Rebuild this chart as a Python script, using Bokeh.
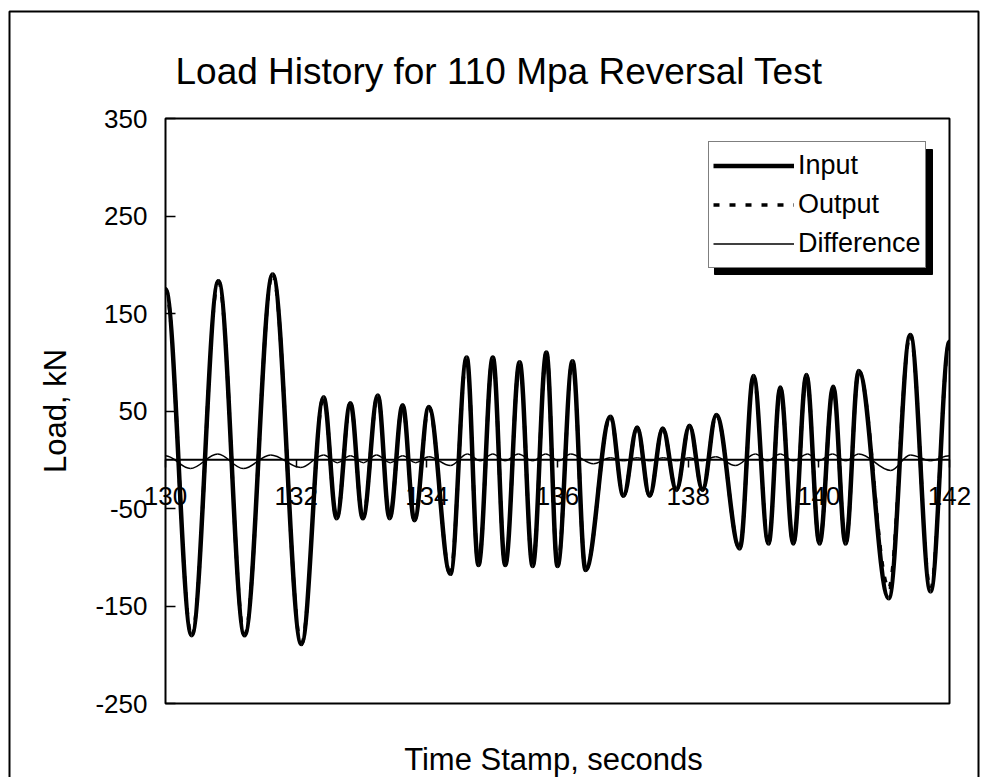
from math import pi
from bokeh.plotting import figure
from bokeh.models import (Range1d, FixedTicker, Legend, LegendItem, Label,
                          BoxAnnotation, ColumnDataSource)
from bokeh.embed import file_html
from bokeh.resources import INLINE

# Turning points of each trace: time stamp (s) and load (kN)
input_t = [130.00, 130.40, 130.81, 131.21, 131.64, 132.08, 132.42, 132.62, 132.83,
           133.02, 133.25, 133.43, 133.63, 133.81, 134.03, 134.36, 134.61, 134.79,
           135.01, 135.20, 135.42, 135.62, 135.83, 136.00, 136.23, 136.43, 136.81,
           137.01, 137.22, 137.41, 137.61, 137.82, 138.02, 138.22, 138.43, 138.79,
           139.00, 139.23, 139.41, 139.61, 139.81, 140.01, 140.22, 140.41, 140.61,
           141.07, 141.40, 141.71, 142.00]
input_kn = [175, -180, 183, -180, 190, -189, 64, -60, 58,
            -60, 66, -60, 56, -62, 54, -117, 105, -108,
            105, -108, 100, -109, 110, -109, 101, -113, 44,
            -37, 33, -37, 32, -31, 35, -31, 46, -91,
            86, -86, 74, -86, 87, -86, 75, -86, 91,
            -142, 128, -135, 121]

output_t = list(input_t)
output_kn = [175, -180, 183, -180, 190, -189, 64, -60, 58,
             -60, 66, -60, 56, -62, 54, -117, 105, -108,
             105, -108, 100, -109, 110, -109, 101, -113, 44,
             -37, 33, -37, 32, -31, 35, -31, 46, -91,
             86, -86, 74, -86, 87, -86, 75, -86, 91,
             -131, 128, -133, 121]

diff_t = [130.00, 130.38, 130.80, 131.19, 131.61, 132.07, 132.42, 132.63, 132.83,
          133.03, 133.23, 133.44, 133.63, 133.83, 134.03, 134.36, 134.62, 134.82,
          135.01, 135.20, 135.40, 135.62, 135.82, 136.02, 136.20, 136.55, 136.81,
          137.01, 137.22, 137.41, 137.62, 137.82, 138.01, 138.22, 138.42, 138.72,
          139.03, 139.21, 139.41, 139.61, 139.83, 139.99, 140.21, 140.41, 140.61,
          141.10, 141.40, 141.71, 142.00]
diff_kn = [4, -9, 6, -9, 5, -8, 5, -3, 4,
           -3, 5, -3, 4, -3, 3, -6, 6, -1,
           6, -1, 6, -1, 6, -1, 6, -4, 2,
           -1, 2, -1, 2, -1, 2, -1, 3, -6,
           6, -1, 6, -1, 6, -1, 6, -1, 6,
           -11, 5, -1, 4]

x_ticks = [130, 132, 134, 136, 138, 140, 142]
y_ticks = [-250, -150, -50, 50, 150, 250, 350]

FONT = "Liberation Sans"
K = 1 - 2 / pi  # cubic handle length for a sine-like swing

# page layout (pixels): the canvas is one big frame, the plot box sits inside it
W, H = 986, 777
BOX_L, BOX_R, BOX_T, BOX_B = 165, 949, 118, 703
X0, X1 = x_ticks[0], x_ticks[-1]
Y0, Y1 = y_ticks[0], y_ticks[-1]
SX = (BOX_R - BOX_L) / (X1 - X0)
SY = (BOX_B - BOX_T) / (Y1 - Y0)


def smooth_source(ts, vs):
    """Cubic segments between successive turning points with flat tangents."""
    d = dict(x0=[], y0=[], x1=[], y1=[], cx0=[], cy0=[], cx1=[], cy1=[])
    for i in range(len(ts) - 1):
        t0, t1, v0, v1 = ts[i], ts[i + 1], vs[i], vs[i + 1]
        dt = t1 - t0
        d["x0"].append(t0); d["y0"].append(v0)
        d["x1"].append(t1); d["y1"].append(v1)
        d["cx0"].append(t0 + K * dt); d["cy0"].append(v0)
        d["cx1"].append(t1 - K * dt); d["cy1"].append(v1)
    return ColumnDataSource(d)


p = figure(width=W, height=H, title=None,
           x_range=Range1d(X0 - BOX_L / SX, X1 + (W - BOX_R) / SX),
           y_range=Range1d(Y0 - (H - BOX_B) / SY, Y1 + BOX_T / SY),
           output_backend="svg", toolbar_location=None, min_border=0,
           background_fill_color="white", border_fill_color="white")
p.grid.visible = False
p.outline_line_color = None

# outer chart-area border
p.add_layout(BoxAnnotation(left=9, right=978, top=H - 11, bottom=-20,
                           left_units="screen", right_units="screen",
                           top_units="screen", bottom_units="screen",
                           fill_alpha=0, line_color="black", line_alpha=1, line_width=2))

# plot box and the zero line
p.quad(left=[X0], right=[X1], bottom=[Y0], top=[Y1], fill_alpha=0,
       line_color="black", line_width=2)
p.segment(x0=[X0], x1=[X1], y0=[0], y1=[0], line_color="black", line_width=2)

bez = dict(x0="x0", y0="y0", x1="x1", y1="y1", cx0="cx0", cy0="cy0", cx1="cx1", cy1="cy1")
r_in = p.bezier(**bez, source=smooth_source(input_t, input_kn), line_color="black", line_width=4.5)
r_out = p.bezier(**bez, source=smooth_source(output_t, output_kn), line_color="black",
                 line_width=3.5, line_dash="6 10")
r_diff = p.bezier(**bez, source=smooth_source(diff_t, diff_kn), line_color="black", line_width=1.5)

# x axis crosses at zero load
xa = p.xaxis[0]
xa.fixed_location = 0
xa.ticker = FixedTicker(ticks=x_ticks)
xa.axis_line_color = None
xa.major_tick_in = 0
xa.major_tick_out = 8
xa.major_tick_line_width = 1.5
xa.minor_tick_line_color = None
xa.major_label_standoff = 19
xa.major_label_text_font = FONT
xa.major_label_text_font_size = "26px"
xa.major_label_text_color = "black"

# y axis along the left side of the plot box
ya = p.yaxis[0]
ya.fixed_location = X0
ya.ticker = FixedTicker(ticks=y_ticks)
ya.major_label_overrides = {t: str(t) for t in y_ticks}
ya.axis_line_color = None
ya.major_tick_in = 10
ya.major_tick_out = 0
ya.major_tick_line_width = 1.5
ya.minor_tick_line_color = None
ya.major_label_standoff = 18
ya.major_label_text_font = FONT
ya.major_label_text_font_size = "26px"
ya.major_label_text_color = "black"

text_style = dict(x_units="screen", y_units="screen", text_font=FONT, text_color="black")
p.add_layout(Label(x=175, y=H - 71, text="Load History for 110 Mpa Reversal Test",
                   text_align="left", text_baseline="alphabetic", text_font_size="37px",
                   **text_style))
p.add_layout(Label(x=553, y=H - 759, text="Time Stamp, seconds", text_align="center",
                   text_baseline="middle", text_font_size="31px", **text_style))
p.add_layout(Label(x=55, y=H - (BOX_T + BOX_B) / 2, text="Load, kN", angle=pi / 2,
                   text_align="center", text_baseline="middle", text_font_size="31px",
                   **text_style))

# legend with a drop shadow
p.add_layout(BoxAnnotation(left=714, right=932, bottom=H - 274, top=H - 149,
                           left_units="screen", right_units="screen",
                           top_units="screen", bottom_units="screen",
                           fill_color="black", fill_alpha=1, line_color="black", line_alpha=1))
items = [LegendItem(label="Input", renderers=[r_in]),
         LegendItem(label="Output", renderers=[r_out]),
         LegendItem(label="Difference", renderers=[r_diff])]
legend = Legend(items=items, location=(708, H - 268), padding=4, spacing=0, glyph_width=81,
                glyph_height=39, label_height=39, label_standoff=4, label_text_font=FONT,
                label_text_font_size="27px", margin=0, border_line_width=1.5,
                background_fill_color="white", background_fill_alpha=1,
                border_line_color="black", label_text_color="black")
p.add_layout(legend, "center")

open("out.html", "w").write(file_html(p, INLINE))
